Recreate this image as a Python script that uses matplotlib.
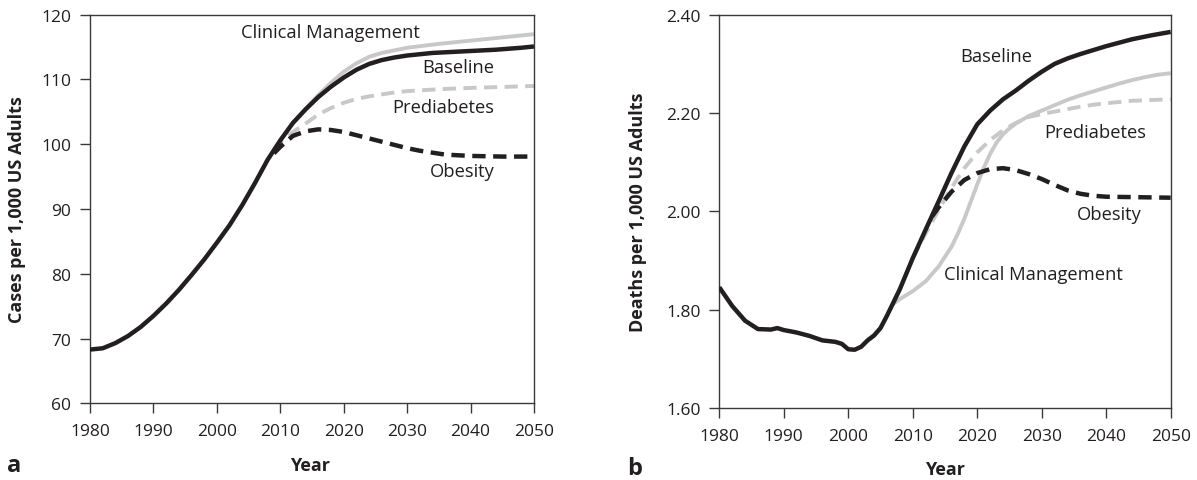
import numpy as np
import matplotlib
matplotlib.use("Agg")
import matplotlib.pyplot as plt

plt.rcParams['font.family'] = ['Open Sans', 'DejaVu Sans']

INK = '#231f20'
GREY = '#c8c8c8'

# ---- panel a: cases per 1,000 US adults ----
yrs_a = [1980, 1982, 1984, 1986, 1988, 1990, 1992, 1994, 1996, 1998, 2000,
         2002, 2004, 2006, 2008, 2010, 2012, 2014, 2016, 2018, 2020, 2022,
         2024, 2026, 2028, 2030, 2032, 2034, 2036, 2038, 2040, 2042, 2044,
         2046, 2048, 2050]
base_a = [68.3, 68.5, 69.3, 70.4, 71.8, 73.5, 75.4, 77.5, 79.8, 82.2, 84.8,
          87.5, 90.6, 94.0, 97.6, 100.6, 103.3, 105.4, 107.3, 108.9, 110.3, 111.5,
          112.4, 113.0, 113.4, 113.7, 113.9, 114.1, 114.2, 114.3, 114.4, 114.5, 114.6,
          114.75, 114.9, 115.1]

yrs_cm_a = [2012, 2014, 2016, 2018, 2020, 2022, 2024, 2026, 2028, 2030,
            2035, 2040, 2045, 2050]
cm_a = [103.3, 105.5, 107.6, 109.5, 111.2, 112.5, 113.5, 114.1, 114.5, 114.9,
        115.5, 116.0, 116.5, 117.0]

yrs_pre_a = [2009, 2010, 2012, 2014, 2016, 2018, 2020, 2022, 2024, 2026,
             2028, 2030, 2035, 2040, 2045, 2050]
pre_a = [99.1, 100.3, 101.9, 103.2, 104.6, 105.6, 106.4, 107.0, 107.4, 107.7,
         108.0, 108.2, 108.5, 108.7, 108.85, 109.0]

yrs_ob_a = [2009, 2010, 2012, 2014, 2016, 2018, 2020, 2022, 2024, 2026,
            2028, 2030, 2032, 2034, 2036, 2038, 2040, 2045, 2050]
ob_a = [98.6, 99.6, 101.3, 102.0, 102.3, 102.2, 101.9, 101.4, 100.9, 100.4,
        99.9, 99.4, 99.0, 98.7, 98.4, 98.3, 98.2, 98.1, 98.1]

# ---- panel b: deaths per 1,000 US adults ----
yrs_b = [1980, 1982, 1984, 1986, 1988, 1989, 1990, 1992, 1994, 1996, 1998,
         1999, 2000, 2001, 2002, 2003, 2004, 2005, 2006, 2008, 2010, 2012,
         2014, 2016, 2018, 2020, 2022, 2024, 2026, 2028, 2030, 2032, 2034,
         2036, 2038, 2040, 2044, 2047, 2050]
base_b = [1.846, 1.808, 1.778, 1.761, 1.760, 1.763, 1.759, 1.754, 1.747, 1.738, 1.735,
          1.731, 1.720, 1.719, 1.725, 1.738, 1.748, 1.763, 1.788, 1.842, 1.905, 1.963,
          2.020, 2.078, 2.132, 2.177, 2.205, 2.228, 2.246, 2.266, 2.284, 2.300, 2.311,
          2.320, 2.328, 2.336, 2.350, 2.358, 2.365]

yrs_cm_b = [2007, 2008, 2010, 2012, 2014, 2016, 2017, 2018, 2019, 2020, 2021,
            2022, 2023, 2024, 2025, 2026, 2028, 2030, 2032, 2034, 2036, 2038,
            2040, 2042, 2044, 2046, 2048, 2050]
cm_b = [1.812, 1.822, 1.838, 1.858, 1.888, 1.928, 1.955, 1.985, 2.020, 2.055, 2.088,
        2.117, 2.140, 2.157, 2.169, 2.179, 2.194, 2.205, 2.216, 2.227, 2.236, 2.244,
        2.252, 2.260, 2.267, 2.273, 2.278, 2.281]

yrs_pre_b = [2010, 2012, 2014, 2016, 2018, 2020, 2022, 2024, 2026, 2028, 2030,
             2032, 2034, 2036, 2038, 2040, 2044, 2050]
pre_b = [1.905, 1.955, 2.003, 2.048, 2.088, 2.120, 2.145, 2.165, 2.180, 2.192, 2.198,
         2.203, 2.208, 2.213, 2.217, 2.220, 2.225, 2.228]

yrs_ob_b = [2013, 2014, 2016, 2018, 2020, 2022, 2024, 2026, 2028, 2030, 2032,
            2034, 2036, 2038, 2040, 2045, 2050]
ob_b = [1.990, 2.008, 2.040, 2.064, 2.078, 2.086, 2.088, 2.084, 2.076, 2.066, 2.054,
        2.043, 2.036, 2.032, 2.030, 2.029, 2.028]

xticks = [1980, 1990, 2000, 2010, 2020, 2030, 2040, 2050]


def style(ax):
    for s in ax.spines.values():
        s.set_color('#3a3a3a')
        s.set_linewidth(1.0)
    ax.tick_params(direction='out', length=7, width=1.0, color='#3a3a3a',
                   labelsize=12.5, labelcolor=INK)
    ax.tick_params(axis='y', pad=6.5)
    ax.tick_params(axis='x', pad=7)
    ax.set_xlim(1980, 2050)
    ax.set_xticks(xticks)


def draw(ax, yb, b, ycm, cm, ypre, pre, yob, ob):
    ax.plot(ycm, cm, color=GREY, lw=2.8, solid_capstyle='butt', zorder=2)
    ax.plot(ypre, pre, color=GREY, lw=2.8, dashes=(3.4, 1.9), zorder=2)
    ax.plot(yb, b, color=INK, lw=3.2, solid_capstyle='butt', zorder=3)
    ax.plot(yob, ob, color=INK, lw=3.2, dashes=(3.0, 1.7), zorder=4)


fig = plt.figure(figsize=(11.97, 4.81), dpi=100)

ax1 = fig.add_axes([0.0752, 0.1594, 0.3709, 0.8079])
draw(ax1, yrs_a, base_a, yrs_cm_a, cm_a, yrs_pre_a, pre_a, yrs_ob_a, ob_a)
style(ax1)
ax1.set_ylim(60, 120)
ax1.set_yticks(range(60, 121, 10))
tk = dict(fontsize=13.2, color=INK)
ax1.text(2017.9, 117.3, 'Clinical Management', ha='center', va='center', **tk)
ax1.text(2043.8, 111.9, 'Baseline', ha='right', va='center', **tk)
ax1.text(2043.8, 105.7, 'Prediabetes', ha='right', va='center', **tk)
ax1.text(2043.8, 95.8, 'Obesity', ha='right', va='center', **tk)

ax2 = fig.add_axes([0.6009, 0.1491, 0.3771, 0.8183])
draw(ax2, yrs_b, base_b, yrs_cm_b, cm_b, yrs_pre_b, pre_b, yrs_ob_b, ob_b)
style(ax2)
ax2.set_ylim(1.60, 2.40)
ax2.set_yticks([1.60, 1.80, 2.00, 2.20, 2.40])
ax2.set_yticklabels(['1.60', '1.80', '2.00', '2.20', '2.40'])
ax2.text(2022.95, 2.316, 'Baseline', ha='center', va='center', **tk)
ax2.text(2038.3, 2.161, 'Prediabetes', ha='center', va='center', **tk)
ax2.text(2040.55, 1.995, 'Obesity', ha='center', va='center', **tk)
ax2.text(2028.7, 1.872, 'Clinical Management', ha='center', va='center', **tk)

# axis titles and panel letters, placed in figure pixels
W, H = 1197, 481
lab = dict(fontsize=13, fontweight='bold', color=INK, ha='center', va='center')
fig.text(17.5 / W, 1 - 210 / H, 'Cases per 1,000 US Adults', rotation=90, **lab)
fig.text(637.5 / W, 1 - 212.5 / H, 'Deaths per 1,000 US Adults', rotation=90, **lab)
fig.text(310 / W, 1 - 466 / H, 'Year', **lab)
fig.text(945 / W, 1 - 470 / H, 'Year', **lab)
fig.text(14 / W, 1 - 466 / H, 'a', fontsize=17, fontweight='bold', color=INK,
         ha='center', va='center')
fig.text(635 / W, 1 - 469 / H, 'b', fontsize=17, fontweight='bold', color=INK,
         ha='center', va='center')

fig.savefig('out.png', dpi=100)
